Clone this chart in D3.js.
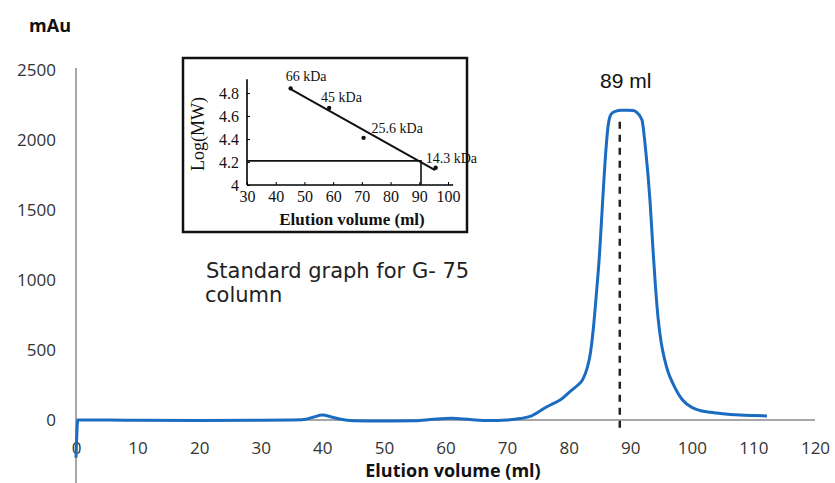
<!DOCTYPE html>
<html>
<head>
<meta charset="utf-8">
<script src="https://cdn.jsdelivr.net/npm/d3@7"></script>
<style>
  body { margin: 0; background: #fff; }
  svg { display: block; }
</style>
</head>
<body>
<div id="chart"></div>
<script>
// chromatogram trace (elution volume in ml, absorbance in mAu)
var elutionMl = [0, 0.3, 5, 10, 20, 30, 35, 37, 38.5, 40, 41.5, 43, 45, 50, 55, 58, 61, 64, 67, 70,
  72.1, 74, 76.4, 77.4, 78.6, 80.5, 81.5, 82.3, 83.0, 83.5, 84.0, 84.5, 85.0, 85.5, 86.0, 86.4, 86.9,
  87.6, 88.5, 89.5, 90.5, 91.1, 91.9, 92.5, 93.2, 93.7, 94.1, 94.5, 95.0, 95.6, 96.2, 96.9, 97.7,
  98.5, 100, 101.3, 103, 105, 107.8, 110, 112.2];
var absorbanceMau = [-270, 0, 0, -2, -3, -2, 0, 3, 20, 36, 22, 5, -5, -8, -6, 5, 12, 3, -4, 0,
  10, 30, 93, 115, 143, 214, 250, 290, 370, 470, 650, 900, 1180, 1550, 1900, 2100, 2185,
  2205, 2212, 2212, 2210, 2195, 2143, 1929, 1571, 1214, 950, 736, 560, 429, 335, 264, 195,
  143, 90, 68, 55, 45, 36, 32, 29];

var xTicks = [0, 10, 20, 30, 40, 50, 60, 70, 80, 90, 100, 110, 120];
var yTicks = [0, 500, 1000, 1500, 2000, 2500];
var peakMl = 88.3;
var peakLabel = "89 ml";

// inset: standard graph for the column
var stdVolume = [45.2, 58.6, 70.6, 95.7];
var stdLogMW = [4.84, 4.67, 4.41, 4.15];
var stdLabels = ["66 kDa", "45 kDa", "25.6 kDa", "14.3 kDa"];
var fitVolume = [45.5, 95.5];
var fitLogMW = [4.83, 4.13];
var refVolume = 90.6;
var refLogMW = 4.21;
var insetXTicks = [30, 40, 50, 60, 70, 80, 90, 100];
var insetYTicks = [4, 4.2, 4.4, 4.6, 4.8];

var width = 835, height = 483;
var svg = d3.select("#chart").append("svg")
  .attr("width", width).attr("height", height);

var x = d3.scaleLinear().domain([0, 120]).range([76, 815]);
var y = d3.scaleLinear().domain([-500, 2500]).range([490, 70]);

var sans = "'Open Sans', 'Liberation Sans', sans-serif";
var axisGray = "#8a8a8a";

// axis lines
svg.append("line")
  .attr("x1", x(0)).attr("x2", x(0))
  .attr("y1", y(2500) - 2).attr("y2", height)
  .attr("stroke", axisGray).attr("stroke-width", 1.5);
svg.append("line")
  .attr("x1", x(0)).attr("x2", x(120))
  .attr("y1", y(0)).attr("y2", y(0))
  .attr("stroke", axisGray).attr("stroke-width", 1.5);

// y tick labels
var yAxis = svg.append("g")
  .attr("transform", "translate(" + (x(0) - 20) + ",0)")
  .call(d3.axisLeft(y).tickValues(yTicks).tickSize(0).tickPadding(0).tickFormat(d3.format("d")));
yAxis.select(".domain").remove();
yAxis.selectAll("text")
  .attr("font-family", sans).attr("font-size", 17).attr("fill", "#333");

// x tick labels
var xAxis = svg.append("g")
  .attr("transform", "translate(0," + (y(0) + 22) + ")")
  .call(d3.axisBottom(x).tickValues(xTicks).tickSize(0).tickPadding(0));
xAxis.select(".domain").remove();
xAxis.selectAll("text")
  .attr("font-family", sans).attr("font-size", 17).attr("fill", "#333");

// axis titles
svg.append("text")
  .attr("x", 50).attr("y", 32)
  .attr("text-anchor", "middle")
  .attr("font-family", sans).attr("font-weight", "bold").attr("font-size", 18)
  .attr("fill", "#111").text("mAu");
svg.append("text")
  .attr("x", 453).attr("y", 477)
  .attr("text-anchor", "middle")
  .attr("font-family", sans).attr("font-weight", "bold").attr("font-size", 18)
  .attr("fill", "#111").text("Elution volume (ml)");

// peak marker
svg.append("line")
  .attr("x1", x(peakMl)).attr("x2", x(peakMl))
  .attr("y1", y(-55)).attr("y2", y(2160))
  .attr("stroke", "#222").attr("stroke-width", 2.5)
  .attr("stroke-dasharray", "7,6");
svg.append("text")
  .attr("x", x(peakMl) + 6).attr("y", 88)
  .attr("text-anchor", "middle")
  .attr("font-family", "'Liberation Sans', Arial, sans-serif").attr("font-size", 21)
  .attr("fill", "#111").text(peakLabel);

// trace
var trace = d3.zip(elutionMl, absorbanceMau);
var line = d3.line()
  .x(function(d) { return x(d[0]); })
  .y(function(d) { return y(d[1]); })
  .curve(d3.curveMonotoneX);
svg.append("path")
  .datum(trace)
  .attr("d", line)
  .attr("fill", "none")
  .attr("stroke", "#1a6cc0")
  .attr("stroke-width", 3)
  .attr("stroke-linejoin", "round");

// inset
var serif = "'Liberation Serif', 'DejaVu Serif', serif";
svg.append("rect")
  .attr("x", 183).attr("y", 58).attr("width", 284).attr("height", 174)
  .attr("fill", "#fff").attr("stroke", "#111").attr("stroke-width", 2.5);

var ix = d3.scaleLinear().domain([30, 100]).range([247, 448]);
var iy = d3.scaleLinear().domain([4, 4.8]).range([185, 93]);
var inset = svg.append("g");

var ixAxis = inset.append("g")
  .attr("transform", "translate(0," + iy(4) + ")")
  .call(d3.axisBottom(ix).tickValues(insetXTicks).tickSize(3).tickSizeOuter(0).tickPadding(3));
ixAxis.select(".domain").attr("d", "M" + ix(30) + ",0H" + ix(101.8)).attr("stroke-width", 1.6);
ixAxis.selectAll("line").attr("y2", -3);
ixAxis.selectAll("text").attr("font-family", serif).attr("font-size", 16).attr("fill", "#111");

var iyAxis = inset.append("g")
  .attr("transform", "translate(" + ix(30) + ",0)")
  .call(d3.axisLeft(iy).tickValues(insetYTicks).tickSize(3).tickSizeOuter(0).tickPadding(5)
    .tickFormat(function(d) { return d === 4 ? "4" : d3.format(".1f")(d); }));
iyAxis.select(".domain").attr("d", "M0," + iy(4) + "V" + iy(4.92)).attr("stroke-width", 1.6);
iyAxis.selectAll("line").attr("x2", 3);
iyAxis.selectAll("text").attr("font-family", serif).attr("font-size", 16).attr("fill", "#111");

inset.append("text")
  .attr("x", 352).attr("y", 225)
  .attr("text-anchor", "middle")
  .attr("font-family", serif).attr("font-weight", "bold").attr("font-size", 17)
  .attr("fill", "#111").text("Elution volume (ml)");
inset.append("text")
  .attr("transform", "translate(204,134) rotate(-90)")
  .attr("text-anchor", "middle")
  .attr("font-family", serif).attr("font-size", 18)
  .attr("fill", "#111").text("Log(MW)");

// reference lines
inset.append("path")
  .attr("d", "M" + ix(30) + "," + iy(refLogMW) + "H" + ix(refVolume) + "V" + iy(4))
  .attr("fill", "none").attr("stroke", "#111").attr("stroke-width", 1.6);

// fit line
inset.append("line")
  .attr("x1", ix(fitVolume[0])).attr("y1", iy(fitLogMW[0]))
  .attr("x2", ix(fitVolume[1])).attr("y2", iy(fitLogMW[1]))
  .attr("stroke", "#111").attr("stroke-width", 2);

var stds = d3.zip(stdVolume, stdLogMW, stdLabels);
inset.selectAll(".std")
  .data(stds)
  .enter().append("circle")
  .attr("class", "std")
  .attr("cx", function(d) { return ix(d[0]); })
  .attr("cy", function(d) { return iy(d[1]); })
  .attr("r", 2.2).attr("fill", "#111");

var labelOffsets = [[-5, -7], [-8, -6], [8, -5], [-10, -5]];
inset.selectAll(".stdlabel")
  .data(stds)
  .enter().append("text")
  .attr("class", "stdlabel")
  .attr("x", function(d, i) { return ix(d[0]) + labelOffsets[i][0]; })
  .attr("y", function(d, i) { return iy(d[1]) + labelOffsets[i][1]; })
  .attr("font-family", serif).attr("font-size", 14)
  .attr("fill", "#111")
  .text(function(d) { return d[2]; });

// caption
var caption = svg.append("text")
  .attr("font-family", "'DejaVu Sans', sans-serif").attr("font-size", 21)
  .attr("fill", "#222");
caption.append("tspan").attr("x", 206).attr("y", 278).text("Standard graph for G- 75");
caption.append("tspan").attr("x", 205).attr("y", 302).text("column");
</script>
</body>
</html>
